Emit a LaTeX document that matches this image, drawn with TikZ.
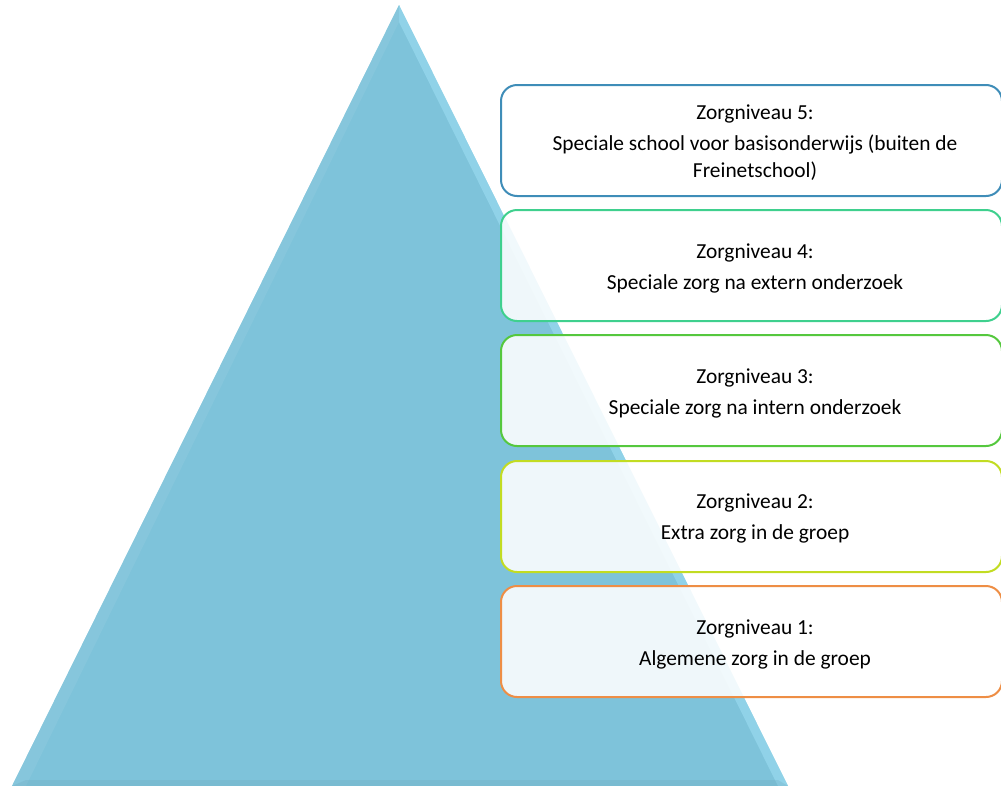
\documentclass[tikz,border=0pt]{standalone}
\usepackage{fontspec}
\setmainfont{Carlito}
\begin{document}
\begin{tikzpicture}[x=1pt,y=-1pt,
  lvlbox/.style={draw=#1, line width=2pt, rounded corners=16pt, fill=white, fill opacity=0.88, text opacity=1},
  lvltext/.style={align=center, font=\fontsize{21.4}{27}\selectfont, text=black}]
\useasboundingbox (0,0) rectangle (1001,785);
\definecolor{tri}{HTML}{7EC3DA}
\definecolor{trilight}{HTML}{9FE0F4}
\definecolor{c5}{HTML}{3F8DB8}
\definecolor{c4}{HTML}{3FD08E}
\definecolor{c3}{HTML}{55C83E}
\definecolor{c2}{HTML}{C2DC22}
\definecolor{c1}{HTML}{EE8E45}
% triangle
\coordinate (apex) at (399,5);
\coordinate (bl) at (12,786);
\coordinate (br) at (788,786);
\fill[tri] (apex) -- (br) -- (bl) -- cycle;
\fill[trilight, opacity=0.55] (apex) -- (br) -- (778,786) -- (399,22) -- cycle;
\fill[tri!88!white, opacity=0.5] (apex) -- (399,22) -- (26,786) -- (bl) -- cycle;
\fill[tri!85!black, opacity=0.25] (bl) -- (br) -- (778,780) -- (26,780) -- cycle;
% boxes
\node[lvlbox=c5, minimum width=501pt, minimum height=111pt, anchor=north west] (b5) at (500,84) {};
\node[lvlbox=c4, minimum width=501pt, minimum height=111pt, anchor=north west] (b4) at (500,209) {};
\node[lvlbox=c3, minimum width=501pt, minimum height=111pt, anchor=north west] (b3) at (500,334) {};
\node[lvlbox=c2, minimum width=501pt, minimum height=111pt, anchor=north west] (b2) at (500,460) {};
\node[lvlbox=c1, minimum width=501pt, minimum height=111pt, anchor=north west] (b1) at (500,585) {};
% texts
\node[lvltext] (t5) at (755,143) {Zorgniveau 5:\\[4pt]Speciale school voor basisonderwijs (buiten de\\Freinetschool)};
\node[lvltext] (t4) at (755,268) {Zorgniveau 4:\\[4pt]Speciale zorg na extern onderzoek};
\node[lvltext] (t3) at (755,393) {Zorgniveau 3:\\[4pt]Speciale zorg na intern onderzoek};
\node[lvltext] (t2) at (755,518) {Zorgniveau 2:\\[4pt]Extra zorg in de groep};
\node[lvltext] (t1) at (755,644) {Zorgniveau 1:\\[4pt]Algemene zorg in de groep};
\end{tikzpicture}
\end{document}
